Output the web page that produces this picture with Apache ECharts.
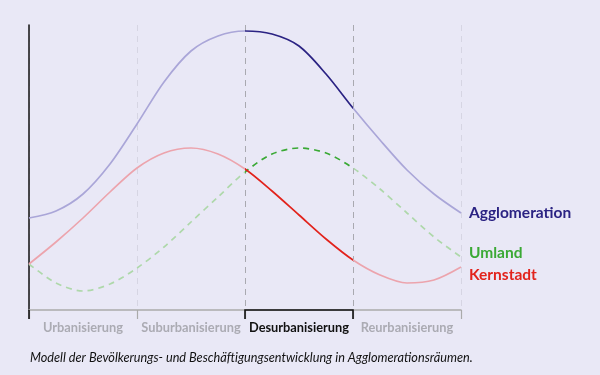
<!DOCTYPE html>
<html><head><meta charset="utf-8">
<script src="https://cdn.jsdelivr.net/npm/echarts@6/dist/echarts.min.js"></script>
<style>html,body{margin:0;padding:0;background:#e9e8f6}#c{width:600px;height:375px}</style>
</head><body><div id="c"></div>
<script>
const phases = ['Urbanisierung', 'Suburbanisierung', 'Desurbanisierung', 'Reurbanisierung'];
const xs = [0, 0.25, 0.5, 0.75, 1, 1.25, 1.5, 1.75, 2, 2.25, 2.5, 2.75, 3, 3.25, 3.5, 3.75, 4];
const agglomeration = [92, 99, 116, 146, 186, 228, 259, 274, 279, 276, 264, 236, 202, 170, 140, 116, 97];
const kernstadt = [46, 68, 92, 118, 142, 157, 162, 156, 141, 119, 95, 71, 50, 35, 27, 30, 43];
const umland = [46, 27, 19, 26, 42, 63, 88, 113, 138, 156, 162, 157, 142, 121, 97, 73, 53];
const caption = 'Modell der Bevölkerungs- und Beschäftigungsentwicklung in Agglomerationsräumen.';
const activePhase = [2, 3];

const FONT = 'Lato';
const pair = a => xs.map((x, i) => [x, a[i]]);
function vm(idx, light, dark) {
  return { type: 'piecewise', show: false, seriesIndex: idx, dimension: 0,
    pieces: [{ lt: activePhase[0], color: light }, { gte: activePhase[0], lte: activePhase[1], color: dark }, { gt: activePhase[1], color: light }] };
}
function lineSeries(name, data, color, dashed, labelDy) {
  return { type: 'line', name, data: pair(data), smooth: 0.3, showSymbol: false, symbol: 'none',
    lineStyle: { width: 1.7, type: dashed ? [6, 5] : 'solid' }, z: 3,
    endLabel: { show: true, formatter: name, color, fontFamily: FONT, fontWeight: 'bold', fontSize: 15.5, distance: 8, offset: [0, labelDy] } };
}
const chart = echarts.init(document.getElementById('c'));
chart.setOption({
  backgroundColor: '#e9e8f6',
  animation: false,
  title: { text: caption, left: 30, top: 351, padding: 0, textStyle: { fontFamily: FONT, fontStyle: 'italic', fontWeight: 'normal', fontSize: 12.7, color: '#111' } },
  grid: { left: 29, right: 139, top: 25, bottom: 65 },
  xAxis: [
    { type: 'value', min: 0, max: 4, interval: 1,
      axisLine: { show: true, lineStyle: { color: '#aaaaaa', width: 1.5 } },
      axisTick: { show: true, length: 9, lineStyle: { color: '#aaaaaa', width: 1.2 } },
      axisLabel: { show: false },
      splitLine: { show: true, lineStyle: { type: [6, 5], width: 1, color: ['#d6d5e3', '#d6d5e3', '#a9a9b0', '#a9a9b0', '#d6d5e3'] } } },
    { type: 'category', data: phases, position: 'bottom', boundaryGap: true,
      axisLine: { show: false }, axisTick: { show: false }, splitLine: { show: false },
      axisLabel: { interval: 0, margin: 11, fontFamily: FONT, fontWeight: 'bold', fontSize: 12.8,
        formatter: (v, i) => (i === 2 ? '{a|' + v + '}' : '{b|' + v + '}'),
        rich: { a: { color: '#111', fontFamily: FONT, fontWeight: 'bold', fontSize: 12.8 }, b: { color: '#ababb3', fontFamily: FONT, fontWeight: 'bold', fontSize: 12.8 } } } }
  ],
  yAxis: { type: 'value', min: 0, max: 285, axisLine: { show: true, lineStyle: { color: '#111', width: 1.5 } },
    axisTick: { show: false }, axisLabel: { show: false }, splitLine: { show: false } },
  visualMap: [vm(0, '#aaa6d8', '#2b2383'), vm(1, '#aed8aa', '#3aa935'), vm(2, '#eca4ad', '#e2231c')],
  series: [
    lineSeries('Agglomeration', agglomeration, '#2b2383', false, 0),
    lineSeries('Umland', umland, '#3aa935', true, -4),
    lineSeries('Kernstadt', kernstadt, '#e2231c', false, 8),
    { type: 'custom', data: [[activePhase[0], activePhase[1]]], silent: true, z: 5, clip: false,
      renderItem: (params, api) => {
        const p0 = api.coord([0, 0]);
        const p1 = api.coord([api.value(0), 0]);
        const p2 = api.coord([api.value(1), 0]);
        return { type: 'group', children: [
          { type: 'polyline', shape: { points: [[p1[0], p1[1] + 9], p1, p2, [p2[0], p2[1] + 9]] }, style: { stroke: '#111', lineWidth: 1.6, fill: null } },
          { type: 'line', shape: { x1: p0[0], y1: p0[1], x2: p0[0], y2: p0[1] + 9 }, style: { stroke: '#111', lineWidth: 1.6 } }
        ] };
      } }
  ]
});
</script></body></html>
